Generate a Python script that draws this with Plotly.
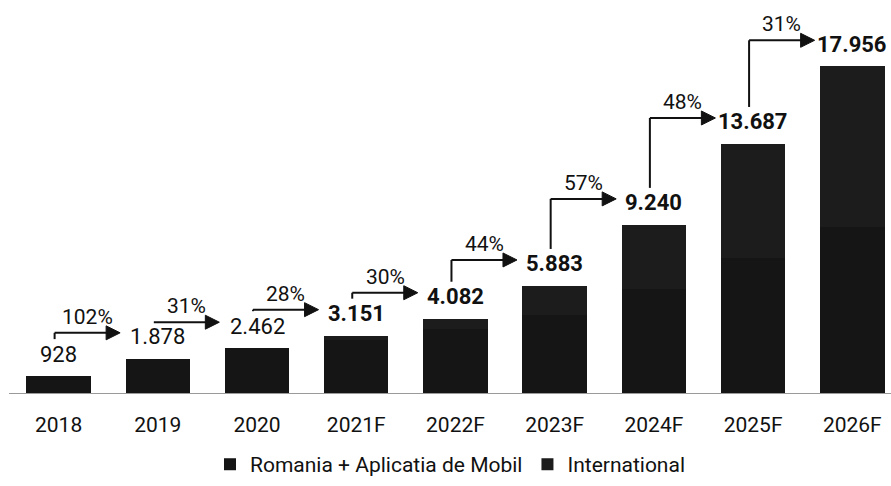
import plotly.graph_objects as go

# ---- data ----
years = ["2018", "2019", "2020", "2021F", "2022F", "2023F", "2024F", "2025F", "2026F"]
totals = [928, 1878, 2462, 3151, 4082, 5883, 9240, 13687, 17956]
romania_app = [928, 1878, 2462, 2900, 3500, 4300, 5700, 7400, 9100]
international = [0, 0, 0, 251, 582, 1583, 3540, 6287, 8856]
growth = ["102%", "31%", "28%", "30%", "44%", "57%", "48%", "31%"]

# ---- layout constants ----
W, H = 891, 486
ML, MR, MT, MB = 9, 0, 0, 93
YMAX = 21600
XR = (-0.5, 8.39)
PH = H - MT - MB
PW = W - ML - MR
FONT = "Roboto"


def dy(px):
    return px * YMAX / PH


def dx(px):
    return px * (XR[1] - XR[0]) / PW


xs = list(range(len(years)))

fig = go.Figure()
fig.add_trace(go.Bar(x=xs, y=romania_app, name="Romania + Aplicatia de Mobil",
                     marker=dict(color="#151515", line=dict(width=0)), width=0.65))
fig.add_trace(go.Bar(x=xs, y=international, name="International",
                     marker=dict(color="#1c1c1c", line=dict(width=0)), width=0.65))

LABEL_OFF = 22
label_y = [t + dy(LABEL_OFF) for t in totals]

annotations = []
shapes = []
for i, (yr, t) in enumerate(zip(years, totals)):
    txt = f"{t:,}".replace(",", ".")
    if yr.endswith("F"):
        txt = f"<b>{txt}</b>"
    annotations.append(dict(x=i, y=label_y[i], text=txt, showarrow=False,
                            xanchor="center", yanchor="middle",
                            font=dict(family=FONT, size=22, color="#111")))

for i, g in enumerate(growth):
    xv = i + dx(-4)
    y0 = label_y[i] + dy(15)
    yl = label_y[i + 1] + dy(4)
    tip = (i + 1) - 0.38
    if yl > y0:
        shapes.append(dict(type="line", xref="x", yref="y", x0=xv, x1=xv, y0=y0, y1=yl,
                           line=dict(color="#111", width=2)))
    shapes.append(dict(type="line", xref="x", yref="y", x0=xv, x1=tip - dx(6), y0=yl, y1=yl,
                       line=dict(color="#111", width=2)))
    shapes.append(dict(type="path", xref="x", yref="y", xsizemode="pixel", ysizemode="pixel",
                       xanchor=tip, yanchor=yl, path="M 0 0 L -14 7 L -14 -7 Z",
                       fillcolor="#111", line=dict(color="#111", width=1)))
    annotations.append(dict(x=(xv + tip) / 2, y=yl, yshift=16, text=g, showarrow=False,
                            xanchor="center", yanchor="middle",
                            font=dict(family=FONT, size=21, color="#111")))

fig.update_layout(
    width=W, height=H,
    margin=dict(l=ML, r=MR, t=MT, b=MB),
    paper_bgcolor="white", plot_bgcolor="white",
    barmode="stack",
    showlegend=True,
    legend=dict(orientation="h", x=0.5, xanchor="center", y=-0.13, yanchor="top",
                traceorder="normal",
                font=dict(family=FONT, size=21, color="#111"), itemwidth=30),
    xaxis=dict(range=list(XR), tickvals=xs, ticktext=years, showgrid=False, zeroline=False,
               showline=True, linecolor="#9a9a9a", linewidth=1,
               ticks="outside", ticklen=13, tickcolor="rgba(0,0,0,0)",
               tickfont=dict(family=FONT, size=21, color="#111")),
    yaxis=dict(range=[0, YMAX], visible=False),
    annotations=annotations,
    shapes=shapes,
)

fig.write_html("out.html", config={"displayModeBar": False},
               post_script="document.body.style.margin='0';")
